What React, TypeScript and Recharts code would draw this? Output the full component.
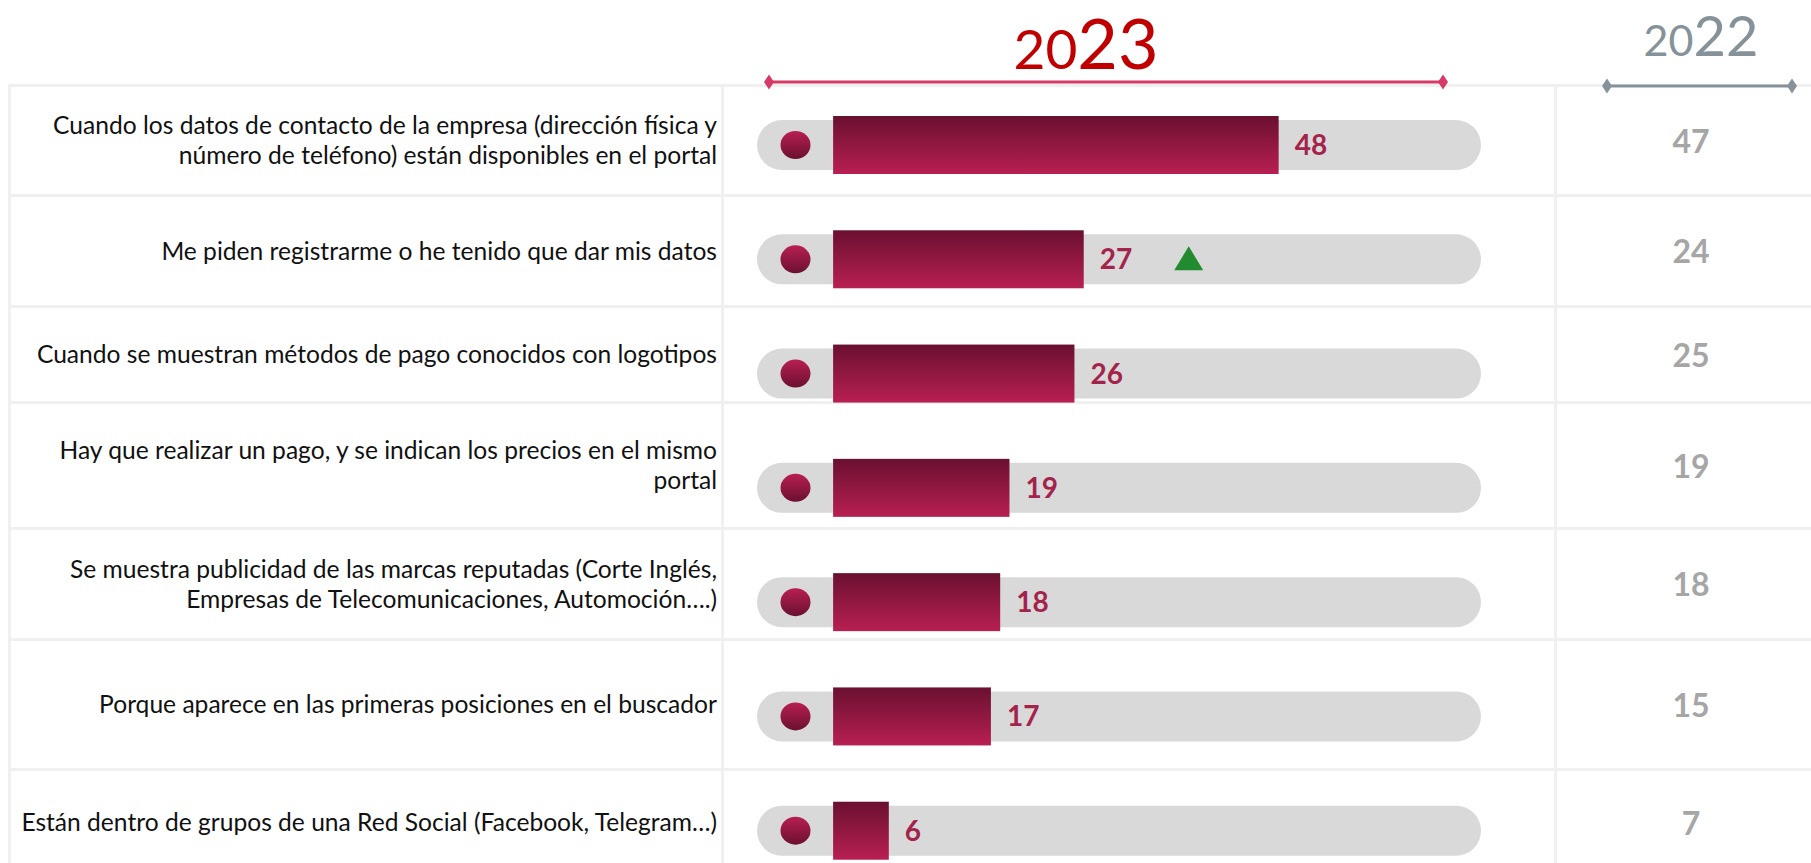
import React from 'react';
import { ComposedChart, Bar, XAxis, YAxis, LabelList } from 'recharts';

const categories = [
  'Cuando los datos de contacto de la empresa (dirección física y\nnúmero de teléfono) están disponibles en el portal',
  'Me piden registrarme o he tenido que dar mis datos',
  'Cuando se muestran métodos de pago conocidos con logotipos',
  'Hay que realizar un pago, y se indican los precios en el mismo\nportal',
  'Se muestra publicidad de las marcas reputadas (Corte Inglés,\nEmpresas de Telecomunicaciones, Automoción….)',
  'Porque aparece en las primeras posiciones en el buscador',
  'Están dentro de grupos de una Red Social (Facebook, Telegram…)',
];
const values2023 = [48, 27, 26, 19, 18, 17, 6];
const values2022 = [47, 24, 25, 19, 18, 15, 7];
const trendUp = [false, true, false, false, false, false, false];

const data = categories.map((name, i) => ({
  name,
  v2023: values2023[i],
  v2022: values2022[i],
  up: trendUp[i],
}));

// table row borders (layout only)
const rowEdges = [85, 195, 306, 402, 528, 639, 769, 875];
const FONT = 'Lato, "Open Sans", sans-serif';
const GRID = '#F0F0F0';

const Pill = (props: any) => {
  const { x, y, width, height } = props;
  const cy = y + height / 2;
  return (
    <g>
      <rect x={x} y={cy - 25} width={width} height={50} rx={25} ry={25} fill="#D9D9D9" />
      <ellipse cx={x + 38.5} cy={cy} rx={15} ry={14} fill="url(#dotGrad)" />
    </g>
  );
};

const GradBar = (props: any) => {
  const { x, y, width, height } = props;
  return <rect x={x} y={y} width={width} height={height} fill="url(#barGrad)" />;
};

const ValueLabel = (props: any) => {
  const { x, y, width, height, value, index } = props;
  const cy = y + height / 2;
  const lx = x + width + 16;
  const tx = x + width + 105;
  return (
    <g>
      <text x={lx} y={cy + 10} fill="#A3234B" fontSize={28} fontWeight={700} fontFamily={FONT}>
        {value}
      </text>
      {data[index] && data[index].up && (
        <polygon points={`${tx - 14.5},${cy + 11} ${tx + 14.5},${cy + 11} ${tx},${cy - 13}`} fill="#228B2E" />
      )}
    </g>
  );
};

const Diamond = ({ cx, cy, fill }: { cx: number; cy: number; fill: string }) => (
  <polygon points={`${cx - 5},${cy} ${cx},${cy - 7.5} ${cx + 5},${cy} ${cx},${cy + 7.5}`} fill={fill} />
);

export default function App() {
  return (
    <div style={{ position: 'relative', width: 1811, height: 863, overflow: 'hidden', background: '#fff', fontFamily: FONT }}>
      <style>{'body{margin:0}'}</style>

      {/* table grid */}
      <div style={{ position: 'absolute', left: 8, top: rowEdges[0] - 1, width: 1803, height: 3, background: GRID }} />
      {[9, 722, 1555].map((x) => (
        <div key={x} style={{ position: 'absolute', left: x - 1, top: rowEdges[0], width: 3, height: 900, background: GRID }} />
      ))}
      {rowEdges.slice(1, -1).map((y) => (
        <div key={y} style={{ position: 'absolute', left: 8, top: y - 1, width: 1803, height: 3, background: GRID }} />
      ))}
      {data.map((d, i) => (
        <React.Fragment key={i}>
          <div
            style={{
              position: 'absolute',
              left: 10,
              width: 707,
              top: rowEdges[i],
              height: rowEdges[i + 1] - rowEdges[i],
              display: 'flex',
              alignItems: 'center',
              justifyContent: 'flex-end',
              textAlign: 'right',
              whiteSpace: 'pre-line',
              fontSize: 24.6,
              lineHeight: '30px',
              color: '#111',
            }}
          >
            {d.name}
          </div>
          <div
            style={{
              position: 'absolute',
              left: 1611,
              width: 160,
              top: rowEdges[i],
              height: rowEdges[i + 1] - rowEdges[i],
              display: 'flex',
              alignItems: 'center',
              justifyContent: 'center',
              fontSize: 32,
              fontWeight: 700,
              color: '#A6A6A6',
            }}
          >
            {d.v2022}
          </div>
        </React.Fragment>
      ))}

      {/* headers */}
      <svg width={1811} height={100} style={{ position: 'absolute', left: 0, top: 0 }}>
        <text x={1086} y={69} textAnchor="middle" fill="#C00000" fontFamily={FONT}>
          <tspan fontSize={55}>20</tspan>
          <tspan fontSize={70}>23</tspan>
        </text>
        <line x1={769} x2={1443} y1={82} y2={82} stroke="#D63A67" strokeWidth={3} />
        <Diamond cx={769} cy={82} fill="#D63A67" />
        <Diamond cx={1443} cy={82} fill="#D63A67" />
        <text x={1701} y={56} textAnchor="middle" fill="#86929A" fontFamily={FONT}>
          <tspan fontSize={43}>20</tspan>
          <tspan fontSize={56}>22</tspan>
        </text>
        <line x1={1607} x2={1792} y1={86} y2={86} stroke="#86929A" strokeWidth={3} />
        <Diamond cx={1607} cy={86} fill="#86929A" />
        <Diamond cx={1792} cy={86} fill="#86929A" />
      </svg>

      <div style={{ position: 'absolute', left: 0, top: 0 }}>
        <ComposedChart
          layout="vertical"
          width={1811}
          height={900}
          data={data}
          margin={{ top: 88, right: 330, bottom: 12, left: 757 }}
        >
          <defs>
            <linearGradient id="barGrad" x1="0" y1="0" x2="0" y2="1">
              <stop offset="0%" stopColor="#6A1030" />
              <stop offset="100%" stopColor="#B81F52" />
            </linearGradient>
            <linearGradient id="dotGrad" x1="0" y1="0" x2="0" y2="1">
              <stop offset="0%" stopColor="#B81F52" />
              <stop offset="100%" stopColor="#6A1030" />
            </linearGradient>
          </defs>
          <XAxis type="number" domain={[-8.2, 69.8]} allowDataOverflow hide />
          <YAxis type="category" dataKey="name" hide />
          <Bar
            dataKey="v2023"
            barSize={58}
            isAnimationActive={false}
            background={Pill}
            shape={GradBar}
          >
            <LabelList dataKey="v2023" content={ValueLabel} />
          </Bar>
        </ComposedChart>
      </div>
    </div>
  );
}
